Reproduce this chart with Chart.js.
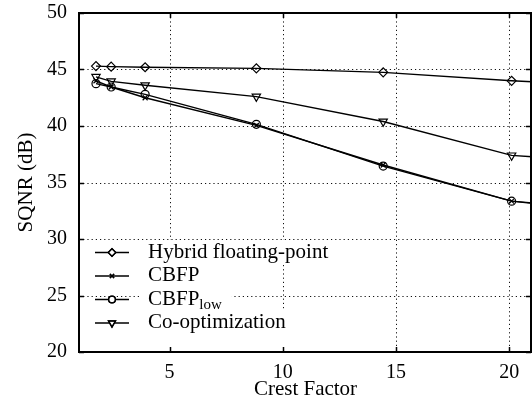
<!DOCTYPE html>
<html>
<head>
<meta charset="utf-8">
<script src="https://cdn.jsdelivr.net/npm/chart.js@4/dist/chart.umd.min.js"></script>
<style>
html,body{margin:0;padding:0;background:#fff;}
#wrap{width:532px;height:402px;}
</style>
</head>
<body>
<div id="wrap"><canvas id="c" width="532" height="402"></canvas></div>
<script>
// ---- data ----
const crestFactor = [1.75, 2.42, 3.92, 8.83, 14.43, 20.1, 21.0];
const hybridFP   = [45.3, 45.25, 45.2, 45.1, 44.75, 44.0, 43.92];
const cbfp       = [44.0, 43.45, 42.5, 40.05, 36.55, 33.35, 33.15];
const cbfpLow    = [43.75, 43.45, 42.8, 40.15, 36.45, 33.35, 33.2];
const coOpt      = [44.35, 43.95, 43.6, 42.6, 40.4, 37.4, 37.28];
const seriesLabels = ['Hybrid floating-point', 'CBFP', 'CBFP_low', 'Co-optimization'];
const xTickValues = [5, 10, 15, 20];
const yTickValues = [20, 25, 30, 35, 40, 45, 50];
const markerCount = 6; // last value is the continuation to the plot edge

const FONT = '"Liberation Serif", "Times New Roman", serif';

function pts(ys){ return ys.map((y,i)=>({x:crestFactor[i], y:y})); }
const radiusFn = r => (ctx => ctx.dataIndex < markerCount ? r : 0);

const styles = [
  {pointStyle:'rectRot', radius:4.5, rotation:0},
  {pointStyle:'crossRot', radius:3.5, rotation:0},
  {pointStyle:'circle', radius:4, rotation:0},
  {pointStyle:'triangle', radius:4.8, rotation:180},
];
const seriesData = [hybridFP, cbfp, cbfpLow, coOpt];

const datasets = seriesData.map((d,i)=>({
  label: seriesLabels[i],
  data: pts(d),
  borderColor:'#000',
  backgroundColor:'#fff',
  borderWidth:1.4,
  pointStyle: styles[i].pointStyle,
  pointRotation: styles[i].rotation,
  pointRadius: radiusFn(styles[i].radius),
  pointBorderColor:'#000',
  pointBackgroundColor:'rgba(255,255,255,0)',
  pointBorderWidth:1.2,
  tension:0,
  fill:false
}));

const framePlugin = {
  id:'frame',
  beforeDatasetsDraw(chart){
    const {ctx, chartArea:a, scales:{x, y}} = chart;
    ctx.save();
    ctx.strokeStyle = '#111';
    ctx.lineWidth = 1;
    ctx.setLineDash([1.2, 3]);
    xTickValues.forEach(v=>{
      const px = Math.round(x.getPixelForValue(v))+0.5;
      ctx.beginPath(); ctx.moveTo(px, a.top); ctx.lineTo(px, a.bottom); ctx.stroke();
    });
    yTickValues.forEach(v=>{
      if (v===y.min || v===y.max) return;
      const py = Math.round(y.getPixelForValue(v))+0.5;
      ctx.beginPath(); ctx.moveTo(a.left, py); ctx.lineTo(a.right, py); ctx.stroke();
    });
    ctx.restore();
  },
  afterDatasetsDraw(chart){
    const {ctx, chartArea:a, scales:{x, y}} = chart;
    ctx.save();
    // legend
    const rowH = 23.5;
    const firstY = a.bottom - 100;
    const lineX0 = a.left + 16, lineX1 = a.left + 50, textX = a.left + 69;
    ctx.textBaseline = 'middle';
    chart.data.datasets.forEach((ds,i)=>{
      const yy = firstY + i*rowH;
      const parts = ds.label.split('_');
      ctx.font = '21px ' + FONT;
      let w = ctx.measureText(parts[0]).width;
      if (parts[1]) { ctx.font = '15px ' + FONT; w += ctx.measureText(parts[1]).width; }
      ctx.fillStyle = '#fff';
      const bottomExtra = (i === chart.data.datasets.length-1) ? 12 : 0;
      ctx.fillRect(textX-6, yy-12, w+16, 24+bottomExtra);
      ctx.strokeStyle = '#000'; ctx.lineWidth = 1.4; ctx.setLineDash([]);
      ctx.beginPath(); ctx.moveTo(lineX0, yy+0.5); ctx.lineTo(lineX1, yy+0.5); ctx.stroke();
      const st = styles[i];
      ctx.fillStyle = '#fff';
      Chart.helpers.drawPoint(ctx, {pointStyle:st.pointStyle, rotation:st.rotation, radius:st.radius*0.85, borderWidth:1.2}, (lineX0+lineX1)/2, yy+0.5);
      ctx.lineWidth = 1.2;
      ctx.strokeStyle = '#000';
      ctx.stroke();
      ctx.fillStyle = '#000';
      ctx.font = '21px ' + FONT;
      ctx.textAlign = 'left';
      ctx.fillText(parts[0], textX, yy);
      if (parts[1]) {
        const w0 = ctx.measureText(parts[0]).width;
        ctx.font = '15px ' + FONT;
        ctx.fillText(parts[1], textX + w0, yy + 6);
      }
    });
    // frame
    ctx.strokeStyle = '#000';
    ctx.lineWidth = 2;
    ctx.setLineDash([]);
    ctx.strokeRect(a.left, a.top, a.right - a.left - 1, a.bottom - a.top);
    ctx.lineWidth = 1.5;
    const tl = 5;
    xTickValues.forEach(v=>{
      const px = Math.round(x.getPixelForValue(v))+0.5;
      ctx.beginPath();
      ctx.moveTo(px, a.bottom); ctx.lineTo(px, a.bottom - tl);
      ctx.moveTo(px, a.top); ctx.lineTo(px, a.top + tl);
      ctx.stroke();
    });
    yTickValues.forEach(v=>{
      const py = Math.round(y.getPixelForValue(v))+0.5;
      ctx.beginPath();
      ctx.moveTo(a.left, py); ctx.lineTo(a.left + tl, py);
      ctx.moveTo(a.right-1, py); ctx.lineTo(a.right - 1 - tl, py);
      ctx.stroke();
    });
    ctx.restore();
  }
};

new Chart(document.getElementById('c'), {
  type:'line',
  data:{datasets},
  plugins:[framePlugin],
  options:{
    responsive:false,
    animation:false,
    devicePixelRatio:1,
    layout:{autoPadding:false, padding:{top:13, right:0, left:0, bottom:0}},
    plugins:{legend:{display:false}, tooltip:{enabled:false}},
    scales:{
      x:{
        type:'linear', min:1, max:21,
        afterBuildTicks: s => { s.ticks = xTickValues.map(v=>({value:v})); },
        afterFit: s => { s.height = 50; s.paddingLeft = 0; s.paddingRight = 0; s.paddingTop = 0; s.paddingBottom = 0; },
        grid:{display:false, drawTicks:false},
        border:{display:false},
        ticks:{color:'#000', font:{family:FONT, size:20}, padding:9, maxRotation:0, autoSkip:false},
        title:{display:true, text:'Crest Factor', color:'#000', font:{family:FONT, size:21}, padding:{top:1, bottom:0}}
      },
      y:{
        type:'linear', min:20, max:50,
        afterBuildTicks: s => { s.ticks = yTickValues.map(v=>({value:v})); },
        afterFit: s => { s.width = 79; s.paddingLeft = 0; s.paddingRight = 0; s.paddingTop = 0; s.paddingBottom = 0; },
        grid:{display:false, drawTicks:false},
        border:{display:false},
        ticks:{color:'#000', font:{family:FONT, size:20}, padding:12},
        title:{display:true, text:'SQNR (dB)', color:'#000', font:{family:FONT, size:21}, padding:{top:14, bottom:0}}
      }
    }
  }
});
</script>
</body>
</html>
